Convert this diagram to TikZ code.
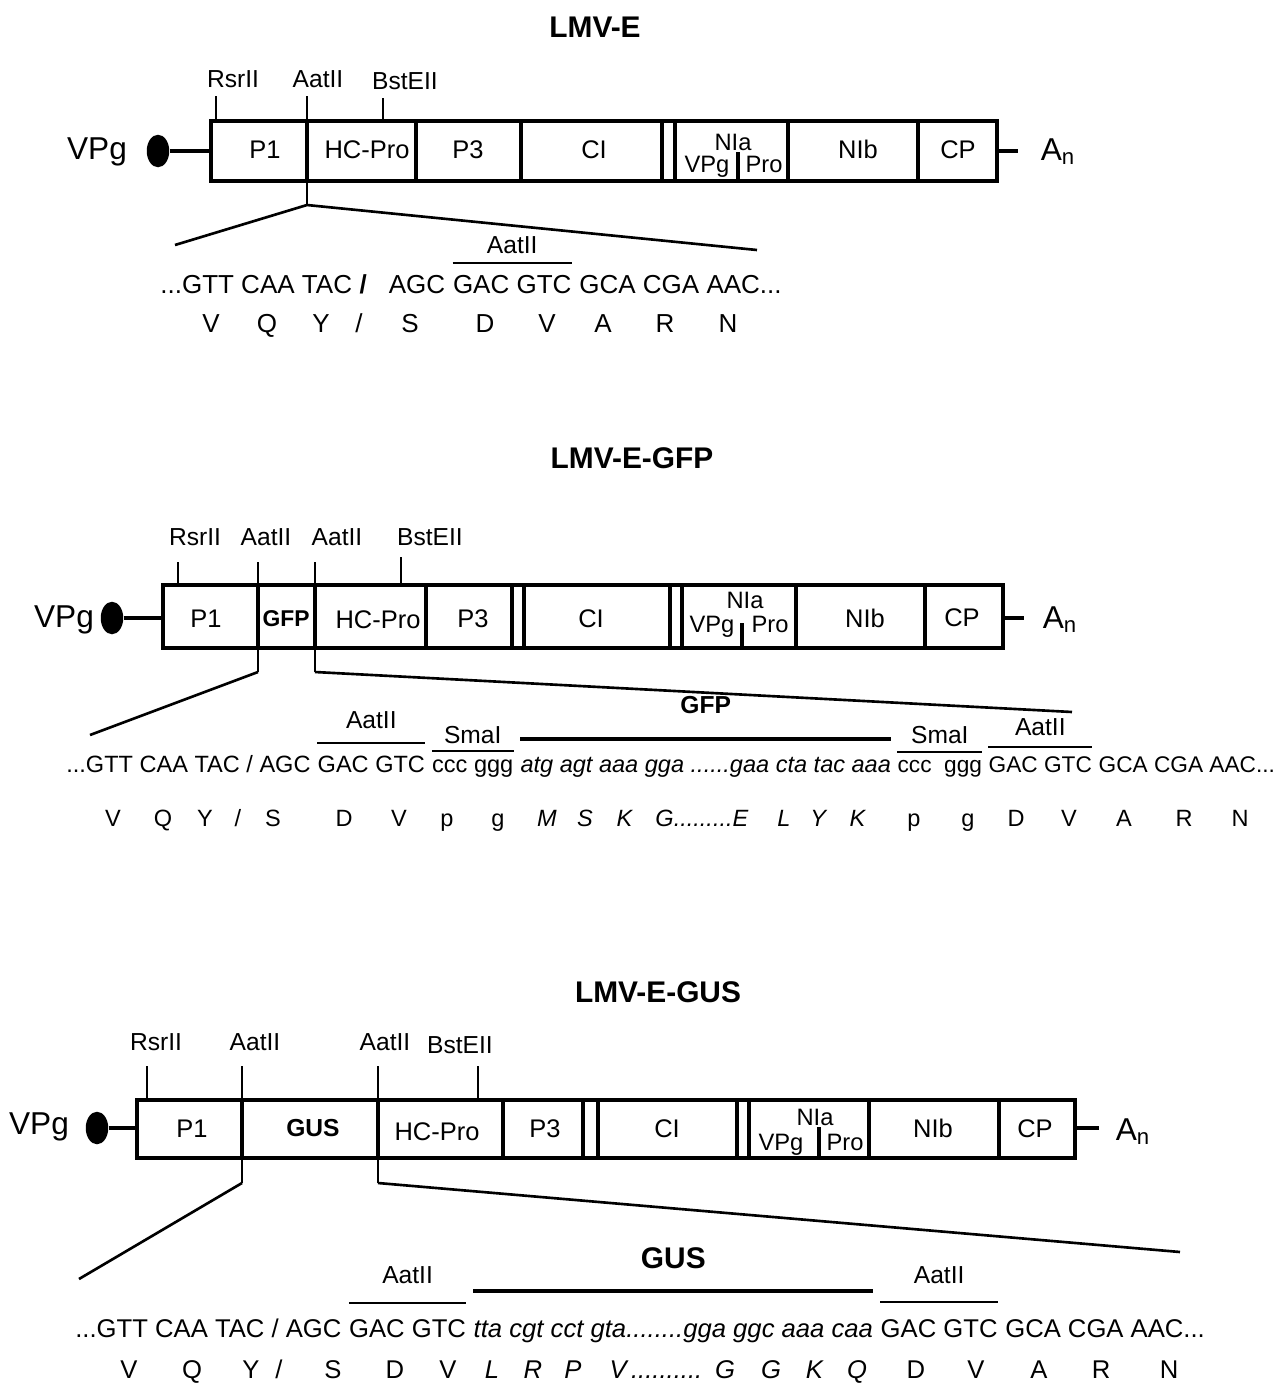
\documentclass[tikz,border=0pt]{standalone}
\usepackage{fontspec}
\setmainfont{Liberation Sans}
\usetikzlibrary{shapes.geometric,positioning}
\tikzset{
  ttl/.style={font=\fontsize{17}{20}\selectfont\bfseries, anchor=base, inner sep=0pt},
  site/.style={font=\fontsize{14}{16}\selectfont, anchor=base, inner sep=0pt},
  gene/.style={font=\fontsize{14.5}{17}\selectfont, anchor=base, inner sep=0pt},
  subgene/.style={font=\fontsize{13.5}{15}\selectfont, anchor=base, inner sep=0pt},
  insertlbl/.style={font=\fontsize{#1}{#1}\selectfont\bfseries, anchor=base, inner sep=0pt},
  big/.style={font=\fontsize{18}{21}\selectfont, anchor=base, inner sep=0pt},
  vpgdot/.style={ellipse, fill=black, inner sep=0pt, minimum width=0.45cm, minimum height=0.65cm},
  seq/.style={font=\fontsize{#1}{#1}\selectfont, anchor=base west, inner sep=0pt},
  aa/.style={font=\fontsize{#1}{#1}\selectfont, anchor=base, inner sep=0pt},
  genome/.style={line width=2.6pt},
  divider/.style={line width=2.3pt},
  tick/.style={line width=1pt},
  fan/.style={line width=1.5pt},
  stem/.style={line width=2pt},
  ovl/.style={line width=1.1pt},
  gbar/.style={line width=2.4pt},
}

\begin{document}
\begin{tikzpicture}[x=0.02cm, y=-0.02cm]
\useasboundingbox (0,0) rectangle (1286,1383);

% ── LMV-E ──────────────────────────────────────────────────────────────────
\node[ttl] (t1) at (595,37) {LMV-E};

\node[site] (r1a) at (233,87) {RsrII};
\node[site] (r1b) at (318,87) {AatII};
\node[site] (r1c) at (405,89) {BstEII};
\coordinate (k1a) at (216,96);
\coordinate (k1b) at (307,96);
\coordinate (k1c) at (383,98);

\draw[genome] (211,121) coordinate (m1nw) rectangle (997,181) coordinate (m1se);
\foreach \x in {307,416,521,662,675,788,918}
  \draw[divider] (\x,121) -- (\x,181);
\draw[divider] (738,152) -- (738,181);
\draw[tick] (k1a) -- (k1a |- m1nw);
\draw[tick] (k1b) -- (k1b |- m1nw);
\draw[tick] (k1c) -- (k1c |- m1nw);

\node[gene] (g1a) at (265,158) {P1};
\node[gene] (g1b) at (367,158) {HC-Pro};
\node[gene] (g1c) at (468,158) {P3};
\node[gene] (g1d) at (594,158) {CI};
\node[subgene] (g1e) at (733,150) {NIa};
\node[subgene] (g1f) at (707,172) {VPg};
\node[subgene] (g1g) at (764,172) {Pro};
\node[gene] (g1h) at (858,158) {NIb};
\node[gene] (g1i) at (958,158) {CP};

\node[big] (v1) at (97,159) {VPg};
\node[vpgdot] (c1) at (158,151) {};
\draw[stem] (c1.east) -- (c1 -| m1nw);
\coordinate (p1) at (1018,151);
\draw[stem] (p1 -| m1se) -- (p1);
\node[big] (a1) at (1058,160) {A\textsubscript{n}};

% zoom onto the AatII junction
\coordinate (f1) at (307,205);
\coordinate (f1l) at (175,245);
\coordinate (f1r) at (757,250);
\draw[tick] (k1b |- m1se) -- (f1);
\draw[fan] (f1l) -- (f1) -- (f1r);

\node[seq=14.8] (s1a) at (160,293) {...GTT CAA TAC};
\node[seq=14.8, base right=4pt of s1a] (s1b) {\bfseries /};
\node[seq=14.8, base right=12pt of s1b] (s1c) {AGC};
\node[seq=14.8, base right=4.1pt of s1c] (s1d) {GAC GTC};
\node[seq=14.8, base right=4.1pt of s1d] (s1e) {GCA CGA AAC...};
\draw[ovl] (s1d.west |- 0,263) -- (s1d.east |- 0,263);
\node[site] (o1a) at (s1d.base |- 0,253) {AatII};

\foreach \x/\a [count=\i] in {211/V, 267/Q, 321/Y, 359/\slash, 410/S,
    485/D, 547/V, 603/A, 665/R, 728/N}
  \node[aa=14.8] (aa1-\i) at (\x,332) {\a};

% ── LMV-E-GFP ──────────────────────────────────────────────────────────────
\node[ttl] (t2) at (632,468) {LMV-E-GFP};

\node[site] (r2a) at (195,545) {RsrII};
\node[site] (r2b) at (266,545) {AatII};
\node[site] (r2c) at (337,545) {AatII};
\node[site] (r2d) at (430,545) {BstEII};
\coordinate (k2a) at (178,562);
\coordinate (k2b) at (258,562);
\coordinate (k2c) at (315,562);
\coordinate (k2d) at (401,557);

\draw[genome] (163,585) coordinate (m2nw) rectangle (1003,648) coordinate (m2se);
\foreach \x in {258,315,426,512,524,670,682,796,925}
  \draw[divider] (\x,585) -- (\x,648);
\draw[divider] (742,623) -- (742,648);
\draw[tick] (k2a) -- (k2a |- m2nw);
\draw[tick] (k2b) -- (k2b |- m2nw);
\draw[tick] (k2c) -- (k2c |- m2nw);
\draw[tick] (k2d) -- (k2d |- m2nw);

\node[gene] (g2a) at (206,627) {P1};
\node[insertlbl=13] (g2b) at (286,626) {GFP};
\node[gene] (g2c) at (378,628) {HC-Pro};
\node[gene] (g2d) at (473,627) {P3};
\node[gene] (g2e) at (591,627) {CI};
\node[subgene] (g2f) at (745,608) {NIa};
\node[subgene] (g2g) at (712,632) {VPg};
\node[subgene] (g2h) at (770,632) {Pro};
\node[gene] (g2i) at (865,627) {NIb};
\node[gene] (g2j) at (962,626) {CP};

\node[big] (v2) at (64,627) {VPg};
\node[vpgdot] (c2) at (112,618) {};
\draw[stem] (c2.east) -- (c2 -| m2nw);
\coordinate (p2) at (1024,618);
\draw[stem] (p2 -| m2se) -- (p2);
\node[big] (a2) at (1060,628) {A\textsubscript{n}};

% zoom onto the GFP insert
\coordinate (f2a) at (258,672);
\coordinate (f2b) at (315,672);
\coordinate (f2l) at (90,735);
\coordinate (f2r) at (1072,712);
\draw[tick] (k2b |- m2se) -- (f2a);
\draw[tick] (k2c |- m2se) -- (f2b);
\draw[fan] (f2a) -- (f2l);
\draw[fan] (f2b) -- (f2r);

\node[seq=13.4] (s2a) at (66,772) {...GTT CAA TAC / AGC};
\node[seq=13.4, base right=3.7pt of s2a] (s2b) {GAC GTC};
\node[seq=13.4, base right=3.7pt of s2b] (s2c) {ccc ggg};
\node[seq=13.4, base right=3.7pt of s2c] (s2d)
  {\itshape atg agt aaa gga ......gaa cta tac aaa};
% right half is set a little narrower, as in the figure
\node[seq=12.9, base right=3.4pt of s2d] (s2e) {ccc\ \ ggg};
\node[seq=12.9, base right=3.4pt of s2e] (s2f) {GAC GTC};
\node[seq=12.9, base right=3.4pt of s2f] (s2g) {GCA CGA AAC...};
\draw[ovl] (s2b.west |- 0,743) -- (s2b.east |- 0,743);
\draw[ovl] (s2c.west |- 0,751) -- (s2c.east |- 0,751);
\draw[gbar] (s2d.west |- 0,739) -- (s2d.east |- 0,739);
\draw[ovl] (s2e.west |- 0,752) -- (s2e.east |- 0,752);
\draw[ovl] (s2f.west |- 0,747) -- (s2f.east |- 0,747);
\node[site] (o2a) at (s2b.base |- 0,728) {AatII};
\node[site] (o2b) at (s2c.base |- 0,743) {SmaI};
\node[insertlbl=14] (o2c) at (s2d.base |- 0,713) {GFP};
\node[site] (o2d) at (s2e.base |- 0,743) {SmaI};
\node[site] (o2e) at (s2f.base |- 0,735) {AatII};

\foreach \x/\a [count=\i] in {113/V, 163/Q, 205/Y, 238/\slash, 273/S,
    344/D, 399/V, 447/p, 498/g, 547/\textit{M}, 585/\textit{S}, 625/\textit{K},
    702/\textit{G.........E}, 784/\textit{L}, 819/\textit{Y}, 858/\textit{K},
    914/p, 968/g, 1016/D, 1069/V, 1124/A, 1184/R, 1240/N}
  \node[aa=13.4] (aa2-\i) at (\x,826) {\a};

% ── LMV-E-GUS ──────────────────────────────────────────────────────────────
\node[ttl] (t3) at (658,1002) {LMV-E-GUS};

\node[site] (r3a) at (156,1050) {RsrII};
\node[site] (r3b) at (255,1050) {AatII};
\node[site] (r3c) at (385,1050) {AatII};
\node[site] (r3d) at (460,1053) {BstEII};
\coordinate (k3a) at (147,1066);
\coordinate (k3b) at (242,1066);
\coordinate (k3c) at (378,1066);
\coordinate (k3d) at (478,1066);

\draw[genome] (137,1100) coordinate (m3nw) rectangle (1075,1158) coordinate (m3se);
\foreach \x in {242,378,503,583,598,737,749,869,999}
  \draw[divider] (\x,1100) -- (\x,1158);
\draw[divider] (819,1127) -- (819,1158);
\draw[tick] (k3a) -- (k3a |- m3nw);
\draw[tick] (k3b) -- (k3b |- m3nw);
\draw[tick] (k3c) -- (k3c |- m3nw);
\draw[tick] (k3d) -- (k3d |- m3nw);

\node[gene] (g3a) at (192,1137) {P1};
\node[insertlbl=14] (g3b) at (313,1136) {GUS};
\node[gene] (g3c) at (437,1140) {HC-Pro};
\node[gene] (g3d) at (545,1137) {P3};
\node[gene] (g3e) at (667,1137) {CI};
\node[subgene] (g3f) at (815,1125) {NIa};
\node[subgene] (g3g) at (781,1150) {VPg};
\node[subgene] (g3h) at (845,1150) {Pro};
\node[gene] (g3i) at (933,1137) {NIb};
\node[gene] (g3j) at (1035,1137) {CP};

\node[big] (v3) at (39,1134) {VPg};
\node[vpgdot] (c3) at (97,1128) {};
\draw[stem] (c3.east) -- (c3 -| m3nw);
\coordinate (p3) at (1099,1128);
\draw[stem] (p3 -| m3se) -- (p3);
\node[big] (a3) at (1133,1140) {A\textsubscript{n}};

% zoom onto the GUS insert
\coordinate (f3a) at (242,1183);
\coordinate (f3b) at (378,1183);
\coordinate (f3l) at (79,1279);
\coordinate (f3r) at (1180,1252);
\draw[tick] (k3b |- m3se) -- (f3a);
\draw[tick] (k3c |- m3se) -- (f3b);
\draw[fan] (f3a) -- (f3l);
\draw[fan] (f3b) -- (f3r);

\node[seq=14.6] (s3a) at (75,1337) {...GTT CAA TAC / AGC};
\node[seq=14.6, base right=4pt of s3a] (s3b) {GAC GTC};
\node[seq=14.6, base right=4pt of s3b] (s3c)
  {\itshape tta cgt cct gta........gga ggc aaa caa};
\node[seq=14.6, base right=4pt of s3c] (s3d) {GAC GTC};
\node[seq=14.6, base right=4pt of s3d] (s3e) {GCA CGA AAC...};
\draw[ovl] (s3b.west |- 0,1303) -- (s3b.east |- 0,1303);
\draw[gbar] (s3c.west |- 0,1291) -- (s3c.east |- 0,1291);
\draw[ovl] (s3d.west |- 0,1302) -- (s3d.east |- 0,1302);
\node[site] (o3a) at (s3b.base |- 0,1283) {AatII};
\node[insertlbl=17] (o3b) at (s3c.base |- 0,1268) {GUS};
\node[site] (o3c) at (s3d.base |- 0,1283) {AatII};

\foreach \x/\a [count=\i] in {129/V, 192/Q, 251/Y, 279/\slash, 333/S,
    395/D, 448/V, 492/\textit{L}, 533/\textit{R}, 573/\textit{P},
    656/\textit{V\,..........}, 725/\textit{G}, 771/\textit{G}, 815/\textit{K},
    857/\textit{Q}, 916/D, 976/V, 1039/A, 1101/R, 1169/N}
  \node[aa=14.6] (aa3-\i) at (\x,1378) {\a};

\end{tikzpicture}
\end{document}
